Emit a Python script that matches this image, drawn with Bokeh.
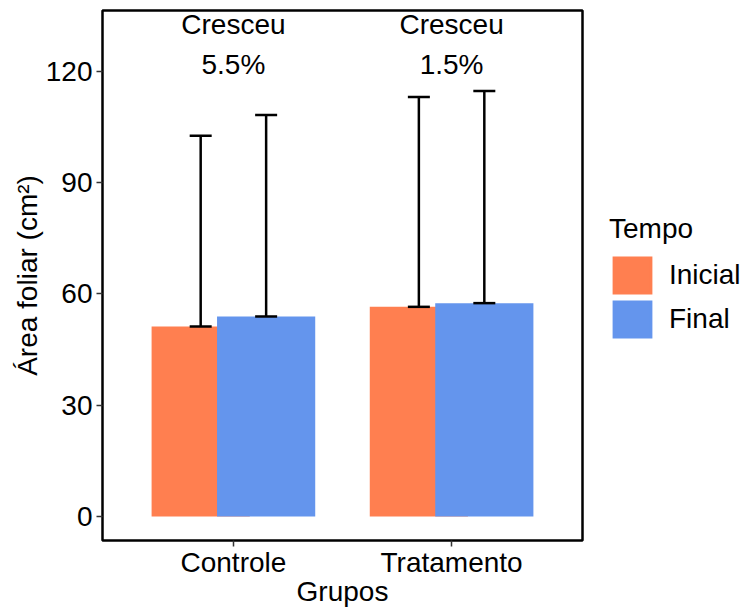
from bokeh.plotting import figure
from bokeh.models import (ColumnDataSource, FactorRange, Range1d, Whisker, TeeHead,
                          Legend, LegendItem, FixedTicker)
from bokeh.transform import dodge
from bokeh.core.properties import value
from bokeh.embed import file_html
from bokeh.resources import INLINE

# ---- data ----
grupos = ["Controle", "Tratamento"]
inicial_media = [51.2, 56.5]
final_media = [53.9, 57.5]
inicial_sup = [102.6, 113.1]
final_sup = [108.2, 114.7]
rotulo_status = ["Cresceu", "Cresceu"]
rotulo_pct = ["5.5%", "1.5%"]
tempo_labels = ["Inicial", "Final"]
y_ticks = [0, 30, 60, 90, 120]

COR_INI = "#FF7F50"
COR_FIN = "#6495ED"
FONT = "Liberation Sans"

p = figure(
    x_range=FactorRange(factors=grupos, range_padding=0.1, range_padding_units="absolute"),
    y_range=Range1d(-6.5, 136.4),
    frame_width=480, frame_height=530,
    min_border_left=102, min_border_top=10, min_border_bottom=55, min_border_right=163,
    output_backend="svg", toolbar_location=None,
)
p.background_fill_color = "white"
p.border_fill_color = "white"
p.outline_line_color = "black"
p.outline_line_width = 2.5
p.xgrid.grid_line_color = None
p.ygrid.grid_line_color = None

src_i = ColumnDataSource(dict(grupo=grupos, media=inicial_media, sup=inicial_sup))
src_f = ColumnDataSource(dict(grupo=grupos, media=final_media, sup=final_sup))

r_ini = p.vbar(x=dodge("grupo", -0.15, range=p.x_range), top="media", bottom=0, width=0.45,
               source=src_i, fill_color=COR_INI, line_color=None)
r_fin = p.vbar(x=dodge("grupo", 0.15, range=p.x_range), top="media", bottom=0, width=0.45,
               source=src_f, fill_color=COR_FIN, line_color=None)

for src, off in ((src_i, -0.15), (src_f, 0.15)):
    w = Whisker(source=src, base=dodge("grupo", off, range=p.x_range),
                upper="sup", lower="media", line_width=2.5, line_color="black",
                upper_head=TeeHead(size=22, line_width=2.5, line_color="black"),
                lower_head=TeeHead(size=22, line_width=2.5, line_color="black"),
                level="annotation")
    p.add_layout(w)

src_t = ColumnDataSource(dict(grupo=grupos, status=rotulo_status, pct=rotulo_pct))
p.text(x="grupo", y=130, text="status", source=src_t, text_align="center", y_offset=-10,
       text_baseline="alphabetic", text_font=value(FONT), text_font_size="28px",
       text_color="black")
p.text(x="grupo", y=130, text="pct", source=src_t, text_align="center", y_offset=30,
       text_baseline="alphabetic", text_font=value(FONT), text_font_size="28px",
       text_color="black")

# axes
for ax in (p.xaxis[0], p.yaxis[0]):
    ax.axis_line_color = None
    ax.major_tick_in = 0
    ax.major_tick_out = 6
    ax.major_tick_line_color = "#333333"
    ax.major_tick_line_width = 1.5
    ax.minor_tick_line_color = None
    ax.major_label_text_font = FONT
    ax.major_label_text_font_size = "28px"
    ax.major_label_text_color = "black"
    ax.axis_label_text_font = FONT
    ax.axis_label_text_font_size = "28px"
    ax.axis_label_text_font_style = "normal"
    ax.axis_label_text_color = "black"

p.yaxis.ticker = FixedTicker(ticks=y_ticks)
p.yaxis.axis_label = "Área foliar (cm²)"
p.yaxis.major_label_standoff = 4
p.yaxis.axis_label_standoff = 0
p.xaxis.axis_label = "Grupos"
p.xaxis.major_label_standoff = 0
p.xaxis.axis_label_standoff = -5

# legend proxies (draw nothing in the plot area)
nan = float("nan")
src_li = ColumnDataSource(dict(grupo=[grupos[0]], media=[nan]))
src_lf = ColumnDataSource(dict(grupo=[grupos[0]], media=[nan]))
r_li = p.vbar(x="grupo", top="media", bottom=0, width=0.45, source=src_li,
              fill_color=COR_INI, line_color=COR_INI, line_width=3, line_join="miter")
r_lf = p.vbar(x="grupo", top="media", bottom=0, width=0.45, source=src_lf,
              fill_color=COR_FIN, line_color=COR_FIN, line_width=3, line_join="miter")
legend = Legend(
    items=[LegendItem(label=tempo_labels[0], renderers=[r_li]),
           LegendItem(label=tempo_labels[1], renderers=[r_lf])],
    title="Tempo", location=(27, 199),
    border_line_color=None, background_fill_alpha=0,
    padding=0, margin=0, spacing=0,
    glyph_width=46, glyph_height=44, label_height=44, label_standoff=14,
    label_text_font=FONT, label_text_font_size="28px", label_text_color="black",
    title_text_font=FONT, title_text_font_size="28px", title_text_font_style="normal",
    title_text_color="black", title_standoff=8,
)
p.add_layout(legend, "right")

open("out.html", "w").write(file_html(p, INLINE))
